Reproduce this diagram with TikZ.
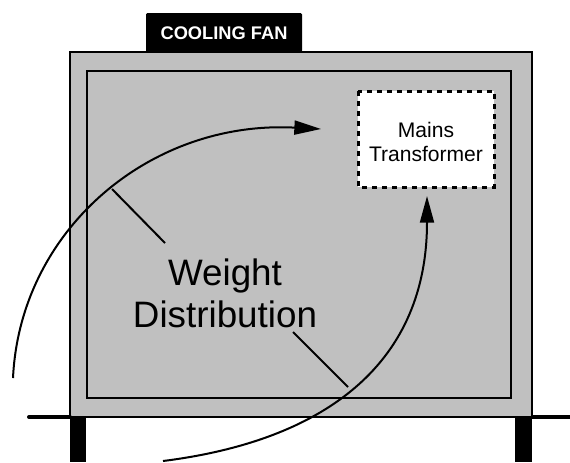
\documentclass[tikz,border=0pt]{standalone}
\usepackage{fontspec}
\setmainfont{Liberation Sans}
\usetikzlibrary{arrows.meta}
\definecolor{casegray}{HTML}{C0C0C0}
\tikzset{
	flow/.style={line width=1.5pt,-{Triangle[length=20pt,width=10.5pt]}},
	tick/.style={line width=1.5pt},
	dashbox/.style={draw,fill=white,line width=2.25pt,dash pattern=on 3.75pt off 3.75pt}
}

\begin{document}
\begin{tikzpicture}[x=0.75pt,y=-0.75pt]
	\useasboundingbox (0,0) rectangle (570,462);
	\draw[fill=casegray,line width=1.1pt] (70,52) rectangle (532,417);
	\draw[line width=1.5pt] (87,71) rectangle (511,398);
	\fill[rounded corners=1pt] (146,52) -- (146,13) -- (302,13) -- (302,52) -- cycle;
	\node[text=white,font=\bfseries\fontsize{13.7pt}{16pt}\selectfont] (fan) at (224,33) {COOLING FAN};
	\fill (70,417) rectangle (86,462);
	\fill (515,417) rectangle (532,462);
	\draw[line width=3pt,line cap=round] (29,417) -- (70,417);
	\draw[line width=3pt] (532,417) -- (570,417);
	\draw[dashbox] (358,91) rectangle (494,187);
	\node[align=center,font=\fontsize{15.8pt}{18pt}\selectfont] (trans) at (426,142) {Mains\\Transformer};
	\node[align=center,font=\fontsize{27.6pt}{31.5pt}\selectfont] (weight) at (225,293) {Weight\\Distribution};
	\coordinate (a) at (13,378);
	\coordinate (b) at (163,461);
	\coordinate (fronttip) at (321,129);
	\coordinate (reartip) at (427,196);
	\coordinate (ta) at (112,189);
	\coordinate (tb) at (348,387);
	\draw[flow] (a) .. controls (20,230) and (150,120) .. (fronttip);
	\draw[flow] (b) .. controls (330,440) and (427,360) .. (reartip);
	\draw[tick] (ta) -- (165,243);
	\draw[tick] (tb) -- (293,332);
\end{tikzpicture}
\end{document}
